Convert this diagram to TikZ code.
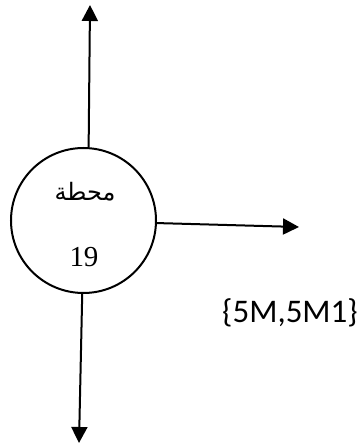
\documentclass[tikz,border=0pt]{standalone}
\usepackage{fontspec}
\setmainfont{Liberation Serif}
\newfontfamily\arabicfont[Script=Arabic]{DejaVu Sans}
\newfontfamily\labelfont{Carlito}
\TeXXeTstate=1
\usetikzlibrary{arrows.meta}
\begin{document}
\begin{tikzpicture}[x=1pt,y=1pt,
  arr/.style={line width=2pt,-{Triangle[length=16pt,width=16pt]}},
  station/.style={circle,draw,line width=2pt,minimum size=145pt,inner sep=0pt}]
\useasboundingbox (0,0) rectangle (364,448);
\node[station] (c) at (83.5,227.5) {};
\node (ar) at (85,256) {\fontsize{24}{28}\selectfont\arabicfont\beginR محطة\endR};
\node (num) at (84,191) {\fontsize{29}{32}\selectfont 19};
\node (lab) at (290,135) {\fontsize{33}{38}\selectfont\labelfont \{5M,5M1\}};
\coordinate (tt) at (90,443);
\coordinate (tr) at (299,221);
\coordinate (tb) at (79,5);
\draw[arr] (c.86) -- (tt);
\draw[arr] (c.-2) -- (tr);
\draw[arr] (c.-91) -- (tb);
\end{tikzpicture}
\end{document}
